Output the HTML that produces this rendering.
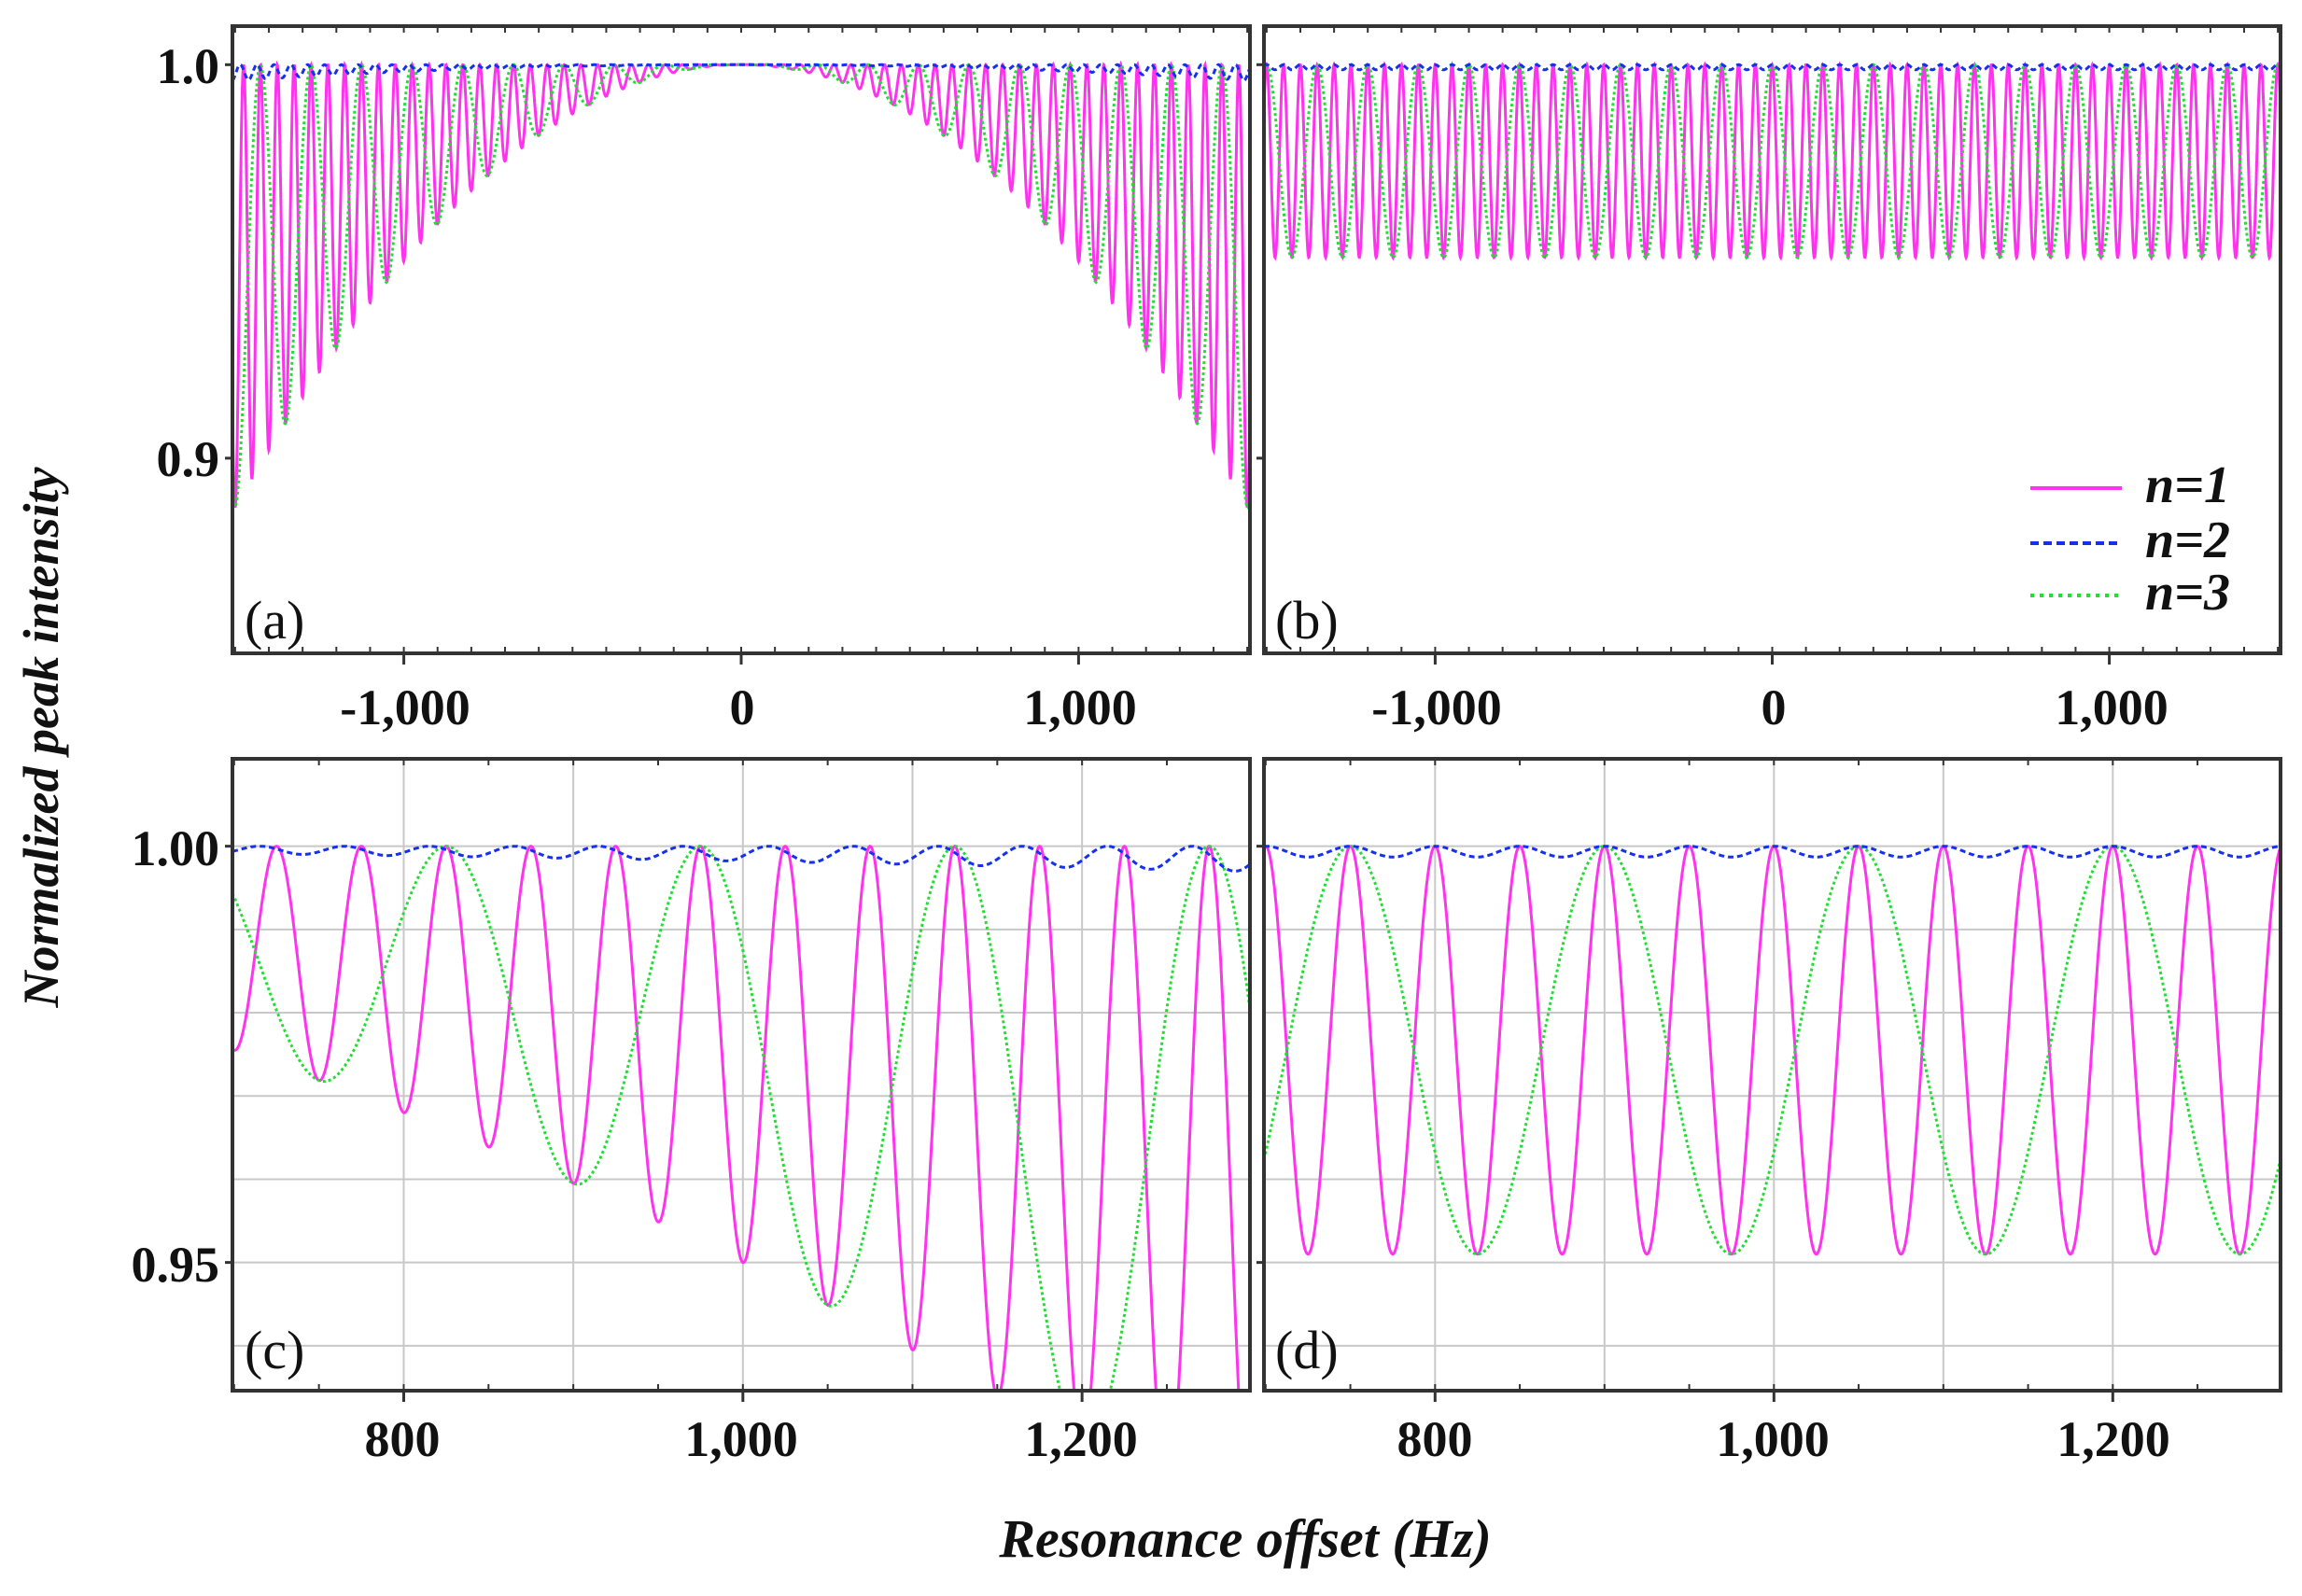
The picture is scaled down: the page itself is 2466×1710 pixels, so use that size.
<!DOCTYPE html>
<html><head><meta charset="utf-8"><style>
html,body{margin:0;padding:0;background:#fff;}
svg{display:block;}
text{font-family:"Liberation Serif",serif;fill:#111;}
</style></head><body>
<svg id="s" width="2466" height="1710" viewBox="0 0 2466 1710" xmlns="http://www.w3.org/2000/svg">
<g id="g"></g>
<!-- tick labels -->
<g font-weight="bold" font-size="54" text-anchor="middle">
<text x="434" y="776">-1,000</text><text x="795" y="776">0</text><text x="1157" y="776">1,000</text>
<text x="1539" y="776">-1,000</text><text x="1900" y="776">0</text><text x="2262" y="776">1,000</text>
<text x="431" y="1560">800</text><text x="794" y="1560">1,000</text><text x="1158" y="1560">1,200</text>
<text x="1537" y="1560">800</text><text x="1899" y="1560">1,000</text><text x="2264" y="1560">1,200</text>
</g>
<g font-weight="bold" font-size="54" text-anchor="end">
<text x="235" y="89">1.0</text><text x="235" y="510">0.9</text>
<text x="235" y="927">1.00</text><text x="235" y="1373">0.95</text>
</g>
<g font-size="58">
<text x="262" y="684">(a)</text><text x="1366" y="684">(b)</text>
<text x="262" y="1466">(c)</text><text x="1366" y="1466">(d)</text>
</g>
<text transform="translate(62,790) rotate(-90)" text-anchor="middle" font-size="54" font-weight="bold" font-style="italic">Normalized peak intensity</text>
<text x="1334" y="1668" text-anchor="middle" font-size="58" font-weight="bold" font-style="italic">Resonance offset (Hz)</text>
<!-- legend -->
<line x1="2175" y1="523" x2="2273" y2="523" stroke="#ff33ee" stroke-width="4"/>
<line x1="2175" y1="582" x2="2273" y2="582" stroke="#1530ee" stroke-width="4" stroke-dasharray="9,5"/>
<line x1="2175" y1="638" x2="2273" y2="638" stroke="#22dd33" stroke-width="4" stroke-dasharray="4,6"/>
<g font-size="56" font-weight="bold" font-style="italic">
<text x="2298" y="538">n=1</text><text x="2298" y="597">n=2</text><text x="2298" y="653">n=3</text>
</g>
</svg>
<script>
(function(){
var NS="http://www.w3.org/2000/svg",g=document.getElementById('g');
function el(n,a){var e=document.createElementNS(NS,n);for(var k in a)e.setAttribute(k,a[k]);g.appendChild(e);return e;}
// panels: x0,x1 px, y0,y1 px, fmin,fmax, vmin,vmax
var P=[
 {L:249,R:1339,T:28,B:700,f0:-1508,f1:1508,v0:0.8504,v1:1.0098,env:true,grid:false,id:'a'},
 {L:1354,R:2443,T:28,B:700,f0:-1508,f1:1508,v0:0.8504,v1:1.0098,env:false,grid:false,id:'b'},
 {L:249,R:1339,T:813,B:1490,f0:699,f1:1299,v0:0.9346,v1:1.0105,env:true,grid:true,id:'c'},
 {L:1354,R:2443,T:813,B:1490,f0:699,f1:1299,v0:0.9346,v1:1.0105,env:false,grid:true,id:'d'}];
P.forEach(function(p,i){
 var X=function(f){return p.L+(f-p.f0)/(p.f1-p.f0)*(p.R-p.L);};
 var Y=function(v){return p.B-(v-p.v0)/(p.v1-p.v0)*(p.B-p.T);};
 var cid='c'+i;
 var cp=document.createElementNS(NS,'clipPath');cp.setAttribute('id',cid);
 var r=document.createElementNS(NS,'rect');r.setAttribute('x',p.L);r.setAttribute('y',p.T);r.setAttribute('width',p.R-p.L);r.setAttribute('height',p.B-p.T);cp.appendChild(r);g.appendChild(cp);
 if(p.grid){
  for(var f=800;f<=1200;f+=100)el('line',{x1:X(f),x2:X(f),y1:p.T,y2:p.B,stroke:'#c8c8c8','stroke-width':2});
  for(var v=0.94;v<=1.001;v+=0.01)el('line',{x1:p.L,x2:p.R,y1:Y(v),y2:Y(v),stroke:'#c8c8c8','stroke-width':2});
 }
 function series(period,phase,depthFn,col,w,dash){
  var d='',step=(p.f1-p.f0)/3000;
  for(var k=0;k<=3000;k++){var f=p.f0+k*step;
   var dep=depthFn(f);
   var v=1-dep*(1-Math.cos(2*Math.PI*(f-phase)/period))/2;
   d+=(k?'L':'M')+X(f).toFixed(1)+' '+Y(v).toFixed(1);}
  var a={d:d,fill:'none',stroke:col,'stroke-width':w,'clip-path':'url(#'+cid+')'};
  if(dash)a['stroke-dasharray']=dash;
  el('path',a);
 }
 var envM=p.env?function(f){return 0.05*(f/1000)*(f/1000);}:function(){return 0.049;};
 var envB=p.env?function(f){return 0.0018*(f/1000)*(f/1000);}:function(){return 0.0013;};
 if(p.env){
  series(50,25,envM,'#ff33ee',3);
  series(150,825,envM,'#22dd33',3,'3,3');
  series(50,15,envB,'#1530ee',3,'6,4');
 }else{
  series(50,0,envM,'#ff33ee',3);
  series(150,750,envM,'#22dd33',3,'3,3');
  series(50,0,envB,'#1530ee',3,'6,4');
 }
 // frame
 el('rect',{x:p.L,y:p.T,width:p.R-p.L,height:p.B-p.T,fill:'none',stroke:'#333','stroke-width':4});
 // ticks
 var maj=p.grid?[800,1000,1200]:[-1000,0,1000],mstep=p.grid?50:100;
 for(var f=Math.ceil(p.f0/mstep)*mstep;f<=p.f1;f+=mstep){
  el('line',{x1:X(f),x2:X(f),y1:p.T,y2:p.T+7,stroke:'#333','stroke-width':2});
  el('line',{x1:X(f),x2:X(f),y1:p.B,y2:p.B-7,stroke:'#333','stroke-width':2});
 }
 maj.forEach(function(f){el('line',{x1:X(f),x2:X(f),y1:p.B,y2:p.B+12,stroke:'#333','stroke-width':3});});
 var yt=p.grid?[0.95,1.0]:[0.9,1.0];
 yt.forEach(function(v){el('line',{x1:p.L-8,x2:p.L,y1:Y(v),y2:Y(v),stroke:'#333','stroke-width':3});});
});
})();
</script>
</body></html>
